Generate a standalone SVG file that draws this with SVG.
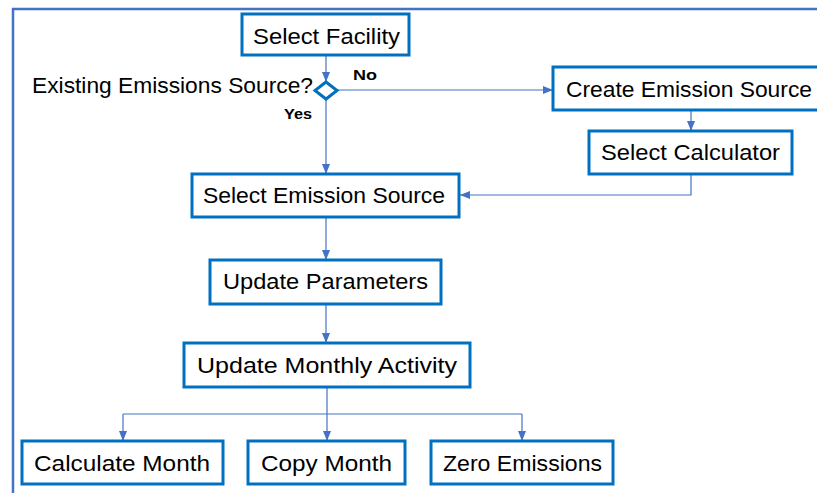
<svg xmlns="http://www.w3.org/2000/svg" width="817" height="493" viewBox="0 0 817 493">
<defs>
<marker id="arr" markerUnits="userSpaceOnUse" markerWidth="10" markerHeight="10" viewBox="0 0 10 10" refX="10" refY="5" orient="auto">
<path d="M0,1 L10,5 L0,9 Z" fill="#4472C4"/>
</marker>
<style>
.box{fill:#fff;stroke:#0070C0;stroke-width:3}
.t{font-family:"Liberation Sans",Arial,sans-serif;font-size:22px;fill:#000}
.lbl{font-family:"Liberation Sans",Arial,sans-serif;font-size:15px;font-weight:bold;fill:#000}
.c{fill:none;stroke:#4472C4;stroke-width:1.2}
</style>
</defs>
<rect width="817" height="493" fill="#fff"/>
<path d="M13,493 V9 H817" fill="none" stroke="#4472C4" stroke-width="2.5"/>
<g id="connectors">
<path class="c" d="M326,55 V82" marker-end="url(#arr)"/>
<path class="c" d="M337,90 H553" marker-end="url(#arr)"/>
<path class="c" d="M326,99 V174" marker-end="url(#arr)"/>
<path class="c" d="M691,110 V131" marker-end="url(#arr)"/>
<path class="c" d="M691,174 V195 H460" marker-end="url(#arr)"/>
<path class="c" d="M326,217 V260" marker-end="url(#arr)"/>
<path class="c" d="M326,304 V343" marker-end="url(#arr)"/>
<path class="c" d="M327,387 V441" marker-end="url(#arr)"/>
<path class="c" d="M123,414 H522"/>
<path class="c" d="M123,414 V441" marker-end="url(#arr)"/>
<path class="c" d="M522,414 V441" marker-end="url(#arr)"/>
</g>
<g id="select-facility">
<rect class="box" x="242" y="14" width="167" height="41"/>
<text class="t" x="253" y="44" textLength="147" lengthAdjust="spacingAndGlyphs">Select Facility</text>
</g>
<g id="decision">
<path d="M326,82 L337,90.5 L326,99 L315,90.5 Z" fill="#fff" stroke="#0070C0" stroke-width="3"/>
<text class="t" x="32" y="93" textLength="281" lengthAdjust="spacingAndGlyphs">Existing Emissions Source?</text>
<text class="lbl" x="353" y="80" textLength="24" lengthAdjust="spacingAndGlyphs">No</text>
<text class="lbl" x="284" y="119" textLength="28" lengthAdjust="spacingAndGlyphs">Yes</text>
</g>
<g id="create-emission-source">
<rect class="box" x="553" y="67" width="280" height="43"/>
<text class="t" x="566" y="97" textLength="246" lengthAdjust="spacingAndGlyphs">Create Emission Source</text>
</g>
<g id="select-calculator">
<rect class="box" x="589" y="131" width="203" height="43"/>
<text class="t" x="601" y="160" textLength="179" lengthAdjust="spacingAndGlyphs">Select Calculator</text>
</g>
<g id="select-emission-source">
<rect class="box" x="192" y="174" width="267" height="43"/>
<text class="t" x="203" y="203" textLength="242" lengthAdjust="spacingAndGlyphs">Select Emission Source</text>
</g>
<g id="update-parameters">
<rect class="box" x="210" y="260" width="231" height="44"/>
<text class="t" x="223" y="289" textLength="205" lengthAdjust="spacingAndGlyphs">Update Parameters</text>
</g>
<g id="update-monthly-activity">
<rect class="box" x="184" y="343" width="286" height="44"/>
<text class="t" x="197" y="373" textLength="260" lengthAdjust="spacingAndGlyphs">Update Monthly Activity</text>
</g>
<g id="calculate-month">
<rect class="box" x="22" y="441" width="201" height="43"/>
<text class="t" x="34" y="471" textLength="176" lengthAdjust="spacingAndGlyphs">Calculate Month</text>
</g>
<g id="copy-month">
<rect class="box" x="248" y="441" width="157" height="43"/>
<text class="t" x="261" y="471" textLength="131" lengthAdjust="spacingAndGlyphs">Copy Month</text>
</g>
<g id="zero-emissions">
<rect class="box" x="431" y="441" width="182" height="43"/>
<text class="t" x="443" y="471" textLength="159" lengthAdjust="spacingAndGlyphs">Zero Emissions</text>
</g>
</svg>
